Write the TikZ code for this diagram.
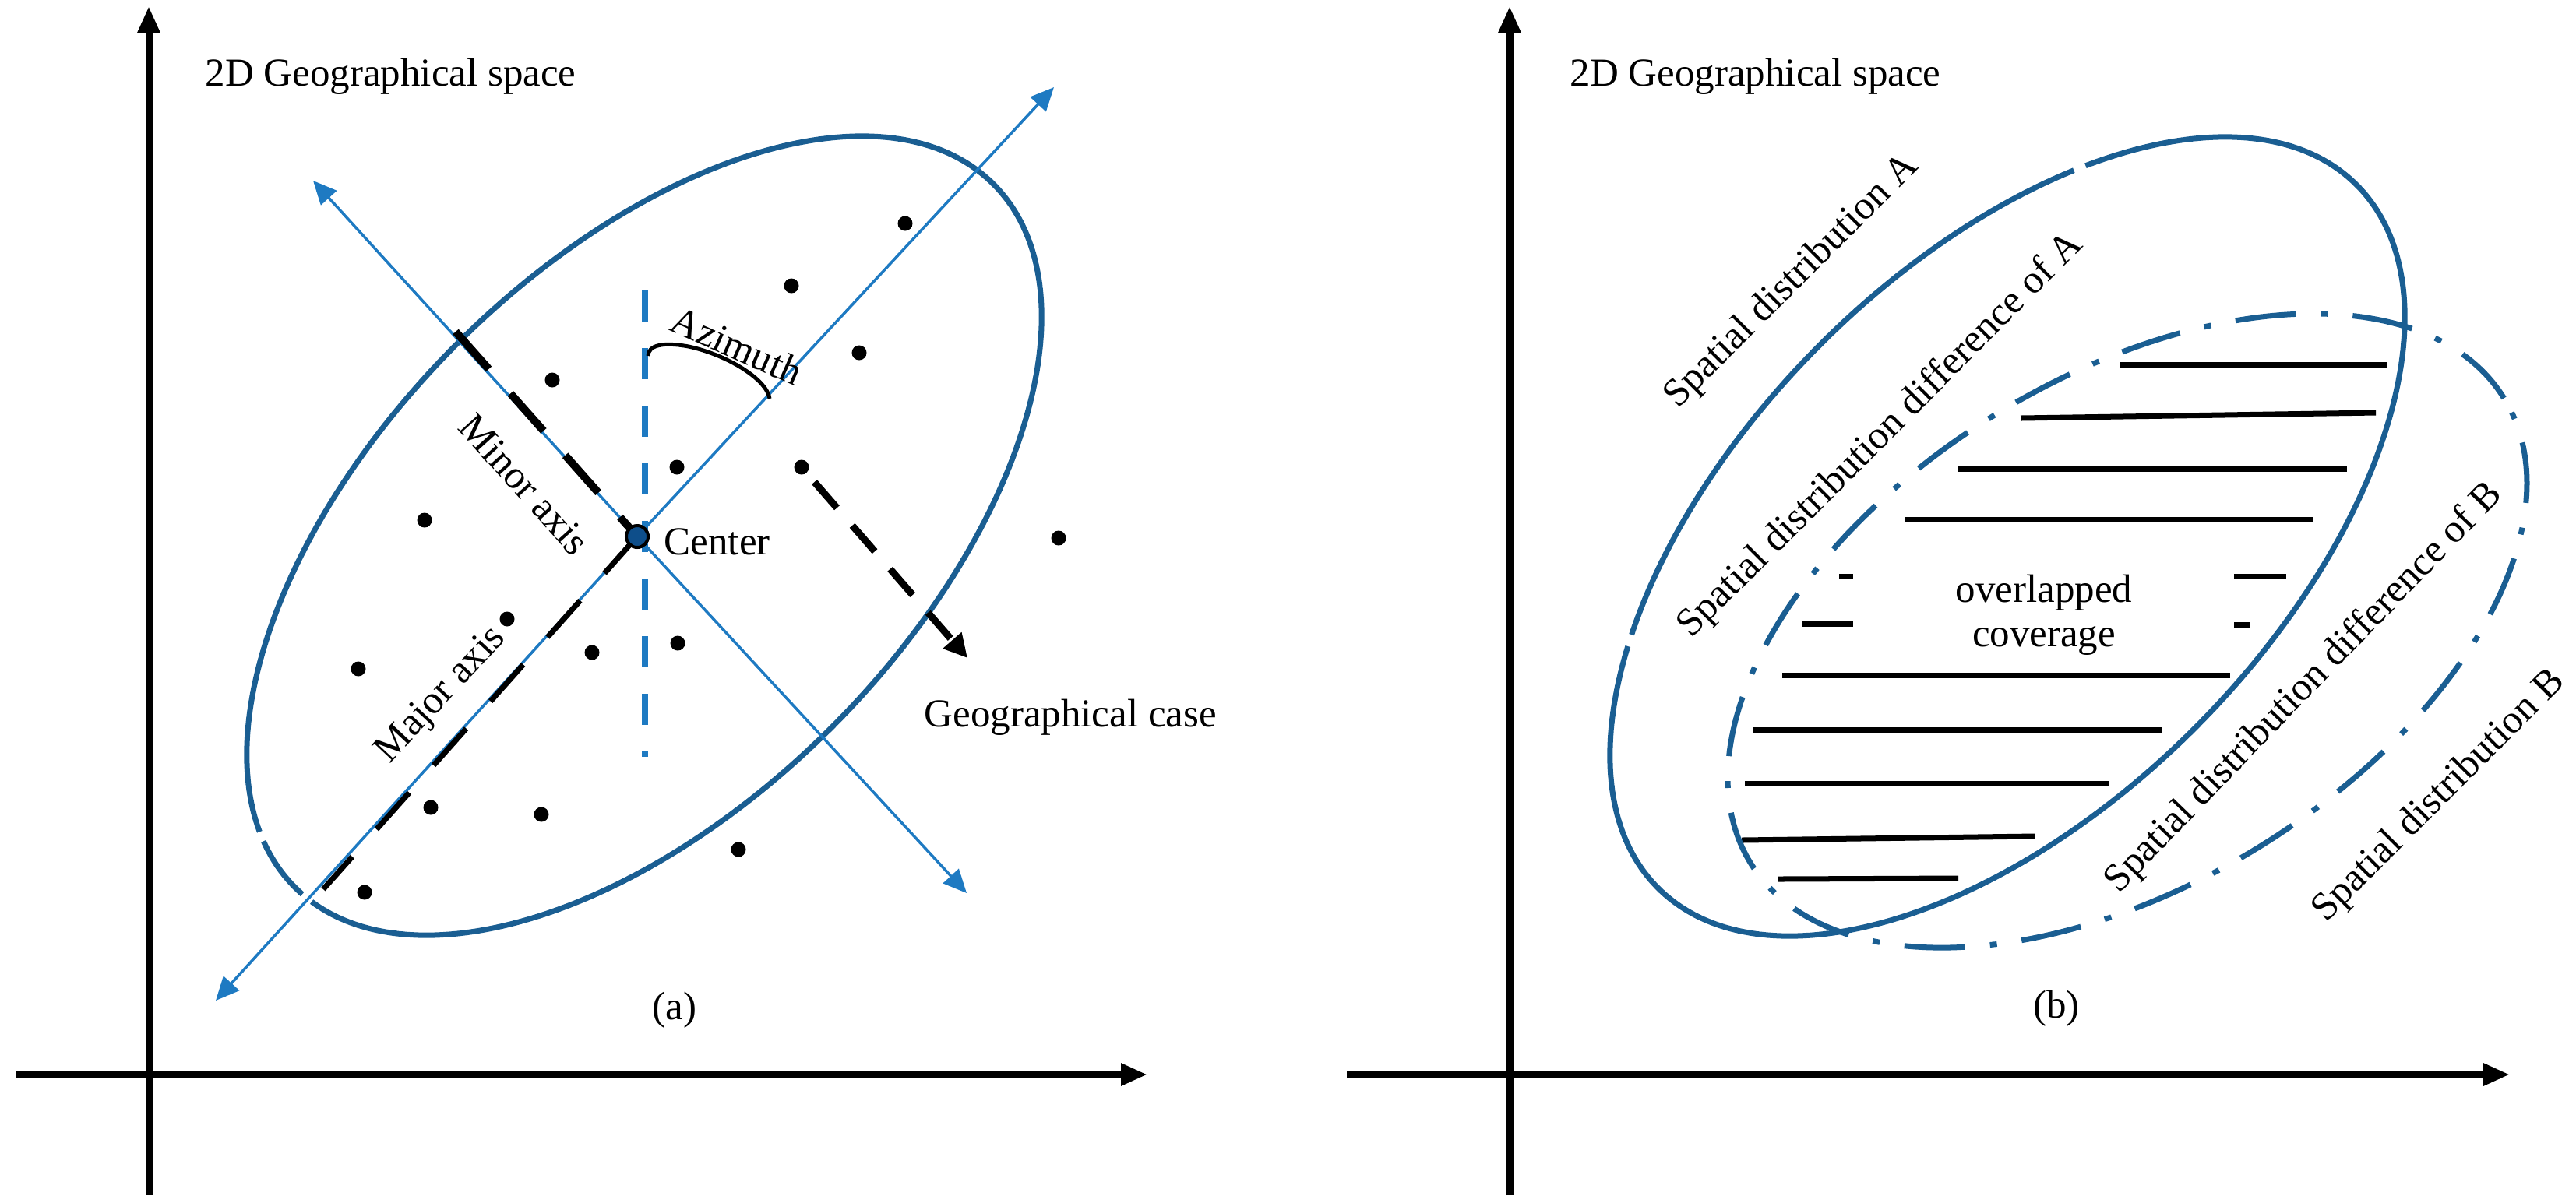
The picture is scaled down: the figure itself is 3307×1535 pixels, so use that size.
\documentclass[tikz,border=0pt]{standalone}
\usepackage{fontspec}
\setmainfont{Liberation Serif}
\usetikzlibrary{arrows.meta}
\definecolor{ellblue}{RGB}{26,94,146}
\definecolor{axblue}{RGB}{30,122,194}
\definecolor{ctrblue}{RGB}{14,78,138}
\begin{document}
\begin{tikzpicture}[x=0.01cm,y=-0.01cm,
  every node/.style={font=\fontsize{14.5pt}{16.2pt}\selectfont, inner sep=0pt},
  mainaxis/.style={line width=0.09cm, -{Triangle[length=0.34cm,width=0.27cm]}},
  ellline/.style={draw=ellblue, line width=0.07cm},
  ellbdash/.style={ellline, dash pattern=on 0.78cm off 0.32cm on 0.09cm off 0.32cm},
  ellgap/.style={draw=white, line width=0.11cm},
  blueaxis/.style={draw=axblue, line width=0.035cm, -{Triangle[length=0.30cm,width=0.27cm]}},
  vertdash/.style={draw=axblue, line width=0.08cm, dash pattern=on 0.40cm off 0.34cm},
  minordash/.style={draw=black, line width=0.10cm, dash pattern=on 0.64cm off 0.42cm},
  majordash/.style={draw=black, line width=0.07cm, dash pattern=on 0.63cm off 0.47cm},
  casearrow/.style={draw=black, line width=0.09cm, dash pattern=on 0.44cm off 0.30cm,
     -{Triangle[length=0.30cm,width=0.30cm]}},
  azarc/.style={draw=black, line width=0.05cm},
  dot/.style={circle, fill=black, inner sep=0pt, minimum size=0.19cm},
  ctrdot/.style={circle, fill=ctrblue, draw=black, line width=0.04cm, inner sep=0pt, minimum size=0.28cm},
  hatch/.style={draw=black, line width=0.07cm}
]
\useasboundingbox (0,0) rectangle (3307,1535);

% ================= panel (a) =================
\coordinate (ayB) at (191,1535);
\coordinate (ayT) at (191,8);
\coordinate (axL) at (21,1380);
\coordinate (axR) at (1473,1380);
\draw[mainaxis] (ayB) -- (ayT);
\draw[mainaxis] (axL) -- (axR);

\node[anchor=base west] (titleA) at (263,110) {2D Geographical space};

% ellipse with its two small breaks
\begin{scope}[shift={(827,688)}, rotate=45.3]
  \draw[ellline] (0,0) ellipse [x radius=6.36cm, y radius=3.44cm];
  \draw[ellgap] (166:6.36cm and 3.44cm) arc [start angle=166, end angle=168, x radius=6.36cm, y radius=3.44cm];
  \draw[ellgap] (182:6.36cm and 3.44cm) arc [start angle=182, end angle=184.5, x radius=6.36cm, y radius=3.44cm];
\end{scope}

% axes of the ellipse
\coordinate (c0) at (818,689);
\coordinate (tr) at (1353,112);
\coordinate (bl) at (277,1285);
\coordinate (tl) at (402,232);
\coordinate (br) at (1241,1147);
\draw[blueaxis] (c0) -- (tr);
\draw[blueaxis] (c0) -- (bl);
\draw[blueaxis] (c0) -- (tl);
\draw[blueaxis] (c0) -- (br);

% vertical (north) dashed line
\coordinate (vT) at (828,373);
\coordinate (vB) at (828,972);
\draw[vertdash] (vT) -- (vB);

% black dashed semi-axes
\coordinate (minE) at (585,426);
\coordinate (majE) at (415,1142);
\draw[minordash] (minE) -- (c0);
\draw[majordash] (c0) -- (majE);

% azimuth arc
\coordinate (azS) at (832,457);
\coordinate (azE) at (988,512);
\draw[azarc] (azS) .. controls (832,443) and (852,439) .. (884,445)
  .. controls (935,456) and (985,488) .. (azE);

% center
\node[ctrdot] (ctr) at (c0) {};
\node[anchor=base west] (ctrlbl) at (852,712) {Center};

% geographical cases
\foreach \i/\x/\y in {1/1162/287, 2/1016/367, 3/1103/453, 4/709/488, 5/869/600,
  6/1029/600, 7/545/668, 8/1359/691, 9/651/795, 10/460/859, 11/760/838,
  12/870/826, 13/553/1037, 14/695/1046, 15/948/1091, 16/468/1146}
  \node[dot] (p\i) at (\x,\y) {};

\coordinate (gcT) at (1242,845);
\draw[casearrow, shorten <=0.15cm] (p6) -- (gcT);
\node[anchor=base west] (gclbl) at (1186,933) {Geographical case};

% rotated labels
\node[rotate=-24] (azlbl) at (946,444) {Azimuth};
\node[rotate=-48] (minlbl) at (673,622) {Minor axis};
\node[rotate=47] (majlbl) at (567,893) {Major axis};

\node (capA) at (866,1297) {(a)};

% ================= panel (b) =================
\coordinate (byB) at (1938,1535);
\coordinate (byT) at (1938,8);
\coordinate (bxL) at (1729,1380);
\coordinate (bxR) at (3222,1380);
\draw[mainaxis] (byB) -- (byT);
\draw[mainaxis] (bxL) -- (bxR);

\node[anchor=base west] (titleB) at (2015,110) {2D Geographical space};

% hatch lines of the overlapped coverage
\draw[hatch] (2722,468) -- (3064,468);
\draw[hatch] (2594,537) -- (3050,530);
\draw[hatch] (2514,602) -- (3013,602);
\draw[hatch] (2445,667) -- (2969,667);
\draw[hatch] (2361,740) -- (2379,740);
\draw[hatch] (2868,740) -- (2935,740);
\draw[hatch] (2313,801) -- (2379,801);
\draw[hatch] (2868,802) -- (2889,802);
\draw[hatch] (2288,867) -- (2863,867);
\draw[hatch] (2251,937) -- (2775,937);
\draw[hatch] (2240,1006) -- (2707,1006);
\draw[hatch] (2236,1079) -- (2612,1074);
\draw[hatch] (2282,1129) -- (2514,1128);

% distribution A (solid, with two small breaks)
\begin{scope}[shift={(2577,689)}, rotate=45.3]
  \draw[ellline] (0,0) ellipse [x radius=6.36cm, y radius=3.44cm];
  \draw[ellgap] (50:6.36cm and 3.44cm) arc [start angle=50, end angle=51.7, x radius=6.36cm, y radius=3.44cm];
  \draw[ellgap] (132.4:6.36cm and 3.44cm) arc [start angle=132.4, end angle=134.1, x radius=6.36cm, y radius=3.44cm];
\end{scope}
% distribution B (dash-dot)
\draw[ellbdash, rotate around={31.7:(2731,810)}] (2731,810) ellipse [x radius=5.68cm, y radius=3.25cm];

\node[rotate=45] (sdA) at (2301,362) {Spatial distribution A};
\node[rotate=45] (sddA) at (2415,560) {Spatial distribution difference of A};
\node[rotate=46] (sddB) at (2958,884) {Spatial distribution difference of B};
\node[rotate=45] (sdB) at (3132,1023) {Spatial distribution B};
\node[align=center] (ovl) at (2624,790) {overlapped\\coverage};

\node (capB) at (2640,1295) {(b)};
\end{tikzpicture}
\end{document}
